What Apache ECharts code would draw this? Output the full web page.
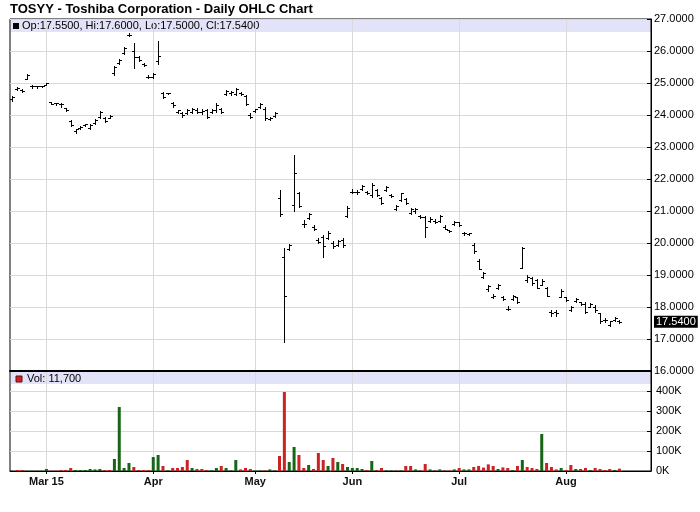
<!DOCTYPE html>
<html><head><meta charset="utf-8">
<script src="https://cdn.jsdelivr.net/npm/echarts@6/dist/echarts.min.js"></script>
<style>html,body{margin:0;padding:0;background:#fff}#c{width:700px;height:512px}</style>
</head><body><div id="c"></div>
<script>
// Trading days (2015), last 6 are empty future slots
const febDays = [19,20,23,24,25,26,27];
const marDays = [2,3,4,5,6,9,10,11,12,13,16,17,18,19,20,23,24,25,26,27,30,31];
const aprDays = [1,2,6,7,8,9,10,13,14,15,16,17,20,21,22,23,24,27,28,29,30];
const mayDays = [1,4,5,6,7,8,11,12,13,14,15,18,19,20,21,22,26,27,28,29];
const junDays = [1,2,3,4,5,8,9,10,11,12,15,16,17,18,19,22,23,24,25,26,29,30];
const julDays = [1,2,6,7,8,9,10,13,14,15,16,17,20,21,22,23,24,27,28,29,30,31];
const augDays = [3,4,5,6,7,10,11,12,13,14,17,18,19,20,21,24,25,26];
const monthNames = ['Jan','Feb','Mar','Apr','May','Jun','Jul','Aug','Sep','Oct','Nov','Dec'];

const openP = [
 24.50,24.80,24.78,25.12,24.90,24.90,24.90,24.95,24.40,24.36,
 24.33,24.22,23.80,23.50,23.58,23.68,23.60,23.75,23.95,23.90,
 23.92,25.30,25.62,25.95,26.50,26.00,25.80,25.60,25.20,25.20,
 25.70,24.70,24.68,24.38,24.10,24.05,24.05,24.10,24.15,24.10,
 24.15,24.10,24.15,24.20,24.65,24.70,24.65,24.70,24.60,24.00,
 24.12,24.25,24.20,23.88,23.98,21.40,19.55,19.80,21.20,21.55,
 20.60,20.78,20.50,20.10,20.20,20.15,20.00,19.95,20.10,20.85,
 21.60,21.58,21.68,21.60,21.50,21.65,21.40,21.66,21.50,21.05,
 21.35,21.38,20.95,21.00,20.85,20.80,20.70,20.70,20.70,20.50,
 20.40,20.60,20.65,20.30,20.28,19.95,19.45,18.95,18.55,18.30,
 18.60,18.30,17.95,18.25,18.30,19.22,18.85,18.90,18.85,18.70,
 18.60,17.85,17.85,18.32,18.30,17.90,18.20,18.15,18.10,18.00,
 18.00,17.80,17.60,17.45,17.60,17.55];
const highP = [
 24.60,24.87,24.82,25.29,24.93,24.92,24.92,25.00,24.40,24.37,
 24.37,24.23,23.83,23.57,23.66,23.73,23.73,23.86,24.11,23.94,
 24.00,25.53,25.76,26.12,26.56,26.25,25.84,25.62,25.25,25.30,
 26.31,24.73,24.70,24.40,24.16,24.10,24.18,24.23,24.21,24.18,
 24.18,24.18,24.36,24.21,24.78,24.76,24.83,24.73,24.63,24.07,
 24.20,24.36,24.24,23.95,24.08,21.65,19.83,19.96,22.75,21.58,
 20.72,20.95,20.56,20.15,20.25,20.36,20.07,20.09,20.15,21.16,
 21.68,21.66,21.81,21.64,21.89,21.68,21.43,21.78,21.53,21.19,
 21.57,21.40,21.08,21.08,20.88,20.84,20.80,20.74,20.88,20.56,
 20.41,20.70,20.67,20.35,20.32,20.01,19.49,19.10,18.69,18.41,
 18.72,18.34,18.03,18.37,18.32,19.86,19.00,18.95,18.86,18.86,
 18.63,17.91,17.91,18.55,18.32,18.04,18.27,18.17,18.15,18.11,
 18.06,17.82,17.65,17.57,17.70,17.60];
const lowP = [
 24.45,24.77,24.72,25.11,24.85,24.85,24.88,24.95,24.33,24.32,
 24.25,24.12,23.66,23.45,23.55,23.66,23.55,23.71,23.92,23.78,
 23.90,25.24,25.60,25.92,26.46,25.47,25.69,25.53,25.16,25.16,
 25.60,24.52,24.65,24.26,24.05,23.95,24.03,24.07,24.07,24.03,
 23.90,24.05,24.10,24.05,24.63,24.63,24.63,24.63,24.31,23.90,
 24.10,24.21,23.84,23.84,23.95,20.85,16.92,19.78,21.00,21.14,
 20.49,20.74,20.41,19.99,19.55,20.12,19.83,19.90,19.89,20.82,
 21.55,21.53,21.66,21.53,21.43,21.47,21.22,21.64,21.45,21.03,
 21.32,21.22,20.91,20.95,20.77,20.20,20.67,20.62,20.67,20.43,
 20.35,20.56,20.53,20.25,20.24,19.68,19.18,18.90,18.51,18.27,
 18.55,18.22,17.90,18.22,18.12,19.21,18.79,18.69,18.58,18.69,
 18.34,17.73,17.73,18.30,18.20,17.89,18.17,18.06,17.80,17.99,
 17.85,17.51,17.54,17.41,17.57,17.50];
const closeP = [
 24.55,24.85,24.76,25.25,24.92,24.90,24.90,25.00,24.35,24.36,
 24.33,24.15,23.68,23.55,23.63,23.72,23.70,23.84,24.08,23.82,
 23.98,25.50,25.72,26.10,26.50,25.80,25.72,25.55,25.20,25.28,
 25.85,24.55,24.70,24.30,24.15,24.00,24.15,24.20,24.10,24.12,
 23.95,24.15,24.30,24.10,24.75,24.72,24.80,24.65,24.35,23.95,
 24.18,24.33,23.90,23.92,24.05,20.90,18.35,19.95,22.20,21.15,
 20.60,20.90,20.45,20.02,19.90,20.30,19.90,20.05,19.95,21.10,
 21.58,21.60,21.78,21.55,21.80,21.50,21.25,21.75,21.48,21.15,
 21.55,21.25,21.05,21.05,20.80,20.50,20.75,20.65,20.85,20.45,
 20.38,20.65,20.55,20.30,20.30,19.75,19.20,19.05,18.65,18.35,
 18.70,18.25,17.95,18.35,18.15,19.85,18.95,18.75,18.60,18.80,
 18.35,17.80,17.80,18.50,18.22,18.00,18.25,18.10,17.85,18.08,
 17.90,17.55,17.58,17.55,17.65,17.54];
const volume = [
 1000,5000,5000,1000,1000,1000,1000,10000,1000,1000,
 5000,5000,15000,5000,5000,5000,10000,8000,10000,5000,
 5000,60000,320000,15000,40000,20000,5000,5000,5000,70000,
 80000,25000,3000,15000,15000,20000,55000,15000,10000,10000,
 5000,3000,15000,25000,15000,3000,55000,8000,15000,10000,
 3000,3000,3000,8000,3000,75000,395000,45000,120000,80000,
 15000,30000,10000,90000,55000,25000,65000,45000,35000,20000,
 15000,15000,10000,5000,50000,5000,15000,3000,3000,3000,
 3000,25000,25000,8000,3000,35000,8000,3000,8000,3000,
 2000,8000,15000,8000,8000,20000,25000,17000,33000,25000,
 10000,18000,15000,5000,25000,55000,20000,15000,10000,185000,
 40000,20000,8000,15000,5000,30000,10000,10000,15000,5000,
 15000,10000,5000,10000,5000,11700];
const volDir = [
 'd','d','d','u','u','u','u','u','d','d',
 'd','d','d','u','u','u','u','u','u','d',
 'd','u','u','u','u','d','d','d','d','u',
 'u','d','u','d','d','d','d','u','d','d',
 'd','u','u','d','u','u','u','d','d','d',
 'u','u','d','u','u','d','d','u','u','d',
 'd','u','d','d','d','u','d','u','d','u',
 'u','u','u','d','u','d','d','u','u','d',
 'u','d','d','u','d','d','u','d','u','d',
 'd','u','d','u','u','d','d','d','d','d',
 'u','d','d','u','d','u','d','d','d','u',
 'd','d','d','u','d','d','u','d','d','u',
 'd','d','d','d','u','d'];

const cats = [];
[[2,febDays],[3,marDays],[4,aprDays],[5,mayDays],[6,junDays],[7,julDays],[8,augDays]].forEach(function(md){
  md[1].forEach(function(d){
    cats.push('2015-' + String(md[0]).padStart(2,'0') + '-' + String(d).padStart(2,'0'));
  });
});
function monthStart(i){ return i > 0 && cats[i].slice(5,7) !== cats[i-1].slice(5,7); }
let firstLabel = -1;
for (let i = 0; i < cats.length; i++) { if (monthStart(i)) { firstLabel = i; break; } }
function monthLabel(value, i){
  const m = monthNames[parseInt(value.slice(5,7),10)-1];
  const idx = cats.indexOf(value);
  return idx === firstLabel ? m + ' ' + value.slice(2,4) : m;
}

const last = closeP.length - 1;
const legendText = 'Op:' + openP[last].toFixed(4) + ', Hi:' + highP[last].toFixed(4) +
  ', Lo:' + lowP[last].toFixed(4) + ', Cl:' + closeP[last].toFixed(4);
const volText = 'Vol: ' + volume[last].toLocaleString('en-US');

const GREEN = '#176617', RED = '#cc2222', GRIDC = '#d9d9d9';
const FONT = '"Liberation Sans", Arial, sans-serif';

const ohlcData = openP.map(function(o,i){ return [i, o, highP[i], lowP[i], closeP[i]]; });
const volData = volume.map(function(v,i){ return {value: v, itemStyle: {color: volDir[i]==='u' ? GREEN : RED}}; });

const chart = echarts.init(document.getElementById('c'), null, {renderer: 'canvas'});
chart.setOption({
  animation: false,
  backgroundColor: '#fff',
  title: {text: 'TOSYY - Toshiba Corporation - Daily OHLC Chart', left: 10, top: 3, padding: 0,
    textStyle: {fontSize: 13, fontWeight: 'bold', fontFamily: FONT, color: '#000'}},
  grid: [
    {left: 10, top: 19, width: 641, height: 352, show: true, borderColor: '#000', borderWidth: 1},
    {left: 10, top: 371, width: 641, height: 100, show: true, borderColor: '#000', borderWidth: 1}
  ],
  xAxis: [
    {type: 'category', gridIndex: 0, data: cats, boundaryGap: true, position: 'bottom',
      axisLine: {show: true, onZero: false, lineStyle: {color: '#000', width: 2}},
      axisTick: {show: false}, axisLabel: {show: false},
      splitLine: {show: true, alignWithLabel: true, interval: function(i){ return monthStart(i); }, lineStyle: {color: GRIDC, width: 1}}},
    {type: 'category', gridIndex: 1, data: cats, boundaryGap: true, position: 'bottom',
      axisLine: {show: true, onZero: false, lineStyle: {color: '#000', width: 1}},
      axisTick: {show: true, alignWithLabel: true, length: 3, interval: function(i){ return monthStart(i); }, lineStyle: {color: '#000'}},
      axisLabel: {show: true, interval: function(i){ return monthStart(i); }, formatter: monthLabel, margin: 5,
        fontSize: 11, fontWeight: 'bold', fontFamily: FONT, color: '#111'},
      splitLine: {show: true, alignWithLabel: true, interval: function(i){ return monthStart(i); }, lineStyle: {color: GRIDC, width: 1}}}
  ],
  yAxis: [
    {type: 'value', gridIndex: 0, position: 'right', min: 16, max: 27, interval: 1,
      axisLine: {show: true, lineStyle: {color: '#000'}},
      axisTick: {show: true, inside: true, length: 4, lineStyle: {color: '#000'}},
      axisLabel: {formatter: function(v){ return v.toFixed(4); }, margin: 3, fontSize: 11, fontFamily: FONT, color: '#000'},
      splitLine: {show: true, lineStyle: {color: GRIDC}}},
    {type: 'value', gridIndex: 1, position: 'right', min: 0, max: 500000, interval: 100000,
      axisLine: {show: true, lineStyle: {color: '#000'}},
      axisTick: {show: true, inside: true, length: 4, lineStyle: {color: '#000'}},
      axisLabel: {showMaxLabel: false, formatter: function(v){ return (v/1000) + 'K'; }, margin: 5, fontSize: 11, fontFamily: FONT, color: '#000'},
      splitLine: {show: true, lineStyle: {color: GRIDC}}}
  ],
  graphic: [
    {type: 'rect', z: -1, shape: {x: 11, y: 20, width: 640, height: 12}, style: {fill: '#e2e2f8'}},
    {type: 'rect', shape: {x: 13, y: 23, width: 6, height: 6}, style: {fill: '#000'}},
    {type: 'text', x: 22, y: 26, style: {text: legendText, font: '11px ' + FONT, fill: '#000', verticalAlign: 'middle'}},
    {type: 'rect', z: -1, shape: {x: 11, y: 372, width: 640, height: 12}, style: {fill: '#e2e2f8'}},
    {type: 'rect', shape: {x: 16, y: 376, width: 6, height: 6}, style: {fill: RED, stroke: '#661111', lineWidth: 1}},
    {type: 'text', x: 27, y: 379, style: {text: volText, font: '11px ' + FONT, fill: '#000', verticalAlign: 'middle'}}
  ],
  series: [
    {type: 'custom', name: 'OHLC', xAxisIndex: 0, yAxisIndex: 0, data: ohlcData, clip: true,
      encode: {x: 0, y: [1,2,3,4]},
      renderItem: function(params, api){
        const i = api.value(0);
        const pO = api.coord([i, api.value(1)]);
        const pH = api.coord([i, api.value(2)]);
        const pL = api.coord([i, api.value(3)]);
        const pC = api.coord([i, api.value(4)]);
        const x = Math.round(pO[0]) + 0.5;
        const yo = Math.round(pO[1]) + 0.5, yc = Math.round(pC[1]) + 0.5;
        const st = {stroke: '#000', lineWidth: 1};
        return {type: 'group', children: [
          {type: 'line', shape: {x1: x, y1: Math.round(pH[1]), x2: x, y2: Math.round(pL[1]) + 1}, style: st},
          {type: 'line', shape: {x1: x - 2.5, y1: yo, x2: x, y2: yo}, style: st},
          {type: 'line', shape: {x1: x, y1: yc, x2: x + 2.5, y2: yc}, style: st}
        ]};
      }
    },
    {type: 'line', name: 'Last', xAxisIndex: 0, yAxisIndex: 0, data: [[last, closeP[last]]],
      clip: false, silent: true, symbol: 'none', showSymbol: false, lineStyle: {color: 'rgba(0,0,0,0)'},
      markLine: {silent: true, symbol: 'none', animation: false,
        lineStyle: {color: 'rgba(0,0,0,0)', width: 1, type: 'solid'},
        data: [{yAxis: closeP[last]}],
        label: {show: true, position: 'end', distance: 3, formatter: function(){ return closeP[last].toFixed(4); },
          backgroundColor: '#000', color: '#fff', fontSize: 11, fontFamily: FONT, padding: [1,2,0,2], lineHeight: 11}}
    },
    {type: 'bar', name: 'Volume', xAxisIndex: 1, yAxisIndex: 1, data: volData, barWidth: 3}
  ]
});
</script>
</body></html>
